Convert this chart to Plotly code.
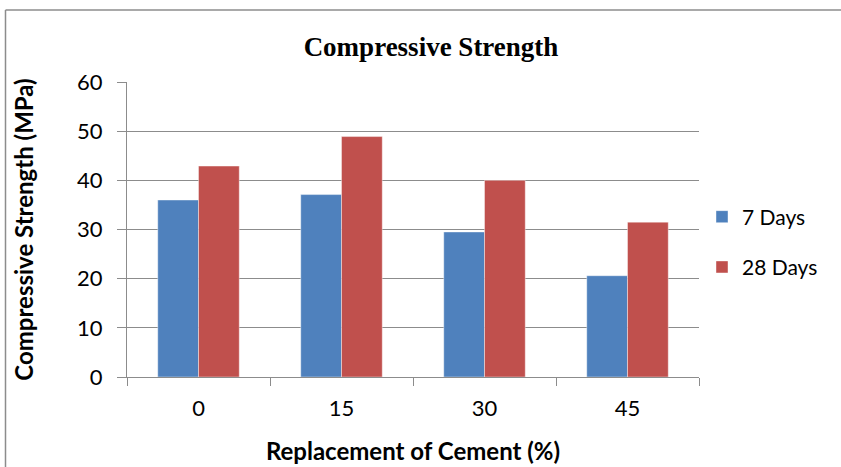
import plotly.graph_objects as go

categories = ["0", "15", "30", "45"]
days7 = [36.0, 37.1, 29.5, 20.6]
days28 = [42.9, 48.9, 40.0, 31.5]
series_names = ["7 Days", "28 Days"]
colors = ["#4F81BD", "#C0504D"]

W, H = 841, 467
L, T = 127, 82
pw, ph = 572, 295
R = W - L - pw
B = H - T - ph

def px_x(x):
    return (x - L) / pw

def px_y(y):
    return (T + ph - y) / ph

fig = go.Figure()
for name, vals, c in zip(series_names, [days7, days28], colors):
    fig.add_trace(go.Bar(
        x=categories, y=vals, name=name, legendgroup=name,
        marker=dict(color=c, line=dict(color="rgba(255,255,255,0.6)", width=0.7)),
    ))

frame = dict(color="#8C8C8C", width=1.5)
fig.update_layout(
    width=W, height=H,
    margin=dict(l=L, r=R, t=T, b=B, autoexpand=False),
    paper_bgcolor="white", plot_bgcolor="white",
    barmode="group", bargap=0.43, bargroupgap=0,
    title=dict(text="<b>Compressive Strength</b>",
               font=dict(family="Liberation Serif", size=27, color="black"),
               x=px_x(431), xref="paper", xanchor="center",
               y=1 - 47 / H, yanchor="middle"),
    font=dict(family="Lato, Liberation Sans, sans-serif", size=22, color="black"),
    showlegend=True,
    legend=dict(x=px_x(702), xanchor="left", y=px_y(242), yanchor="middle",
                font=dict(size=21), tracegroupgap=20, itemwidth=30,
                bgcolor="rgba(0,0,0,0)"),
    shapes=[
        dict(type="line", xref="paper", yref="paper",
             x0=px_x(5.5), x1=px_x(845), y0=px_y(10), y1=px_y(10), line=frame, layer="below"),
        dict(type="line", xref="paper", yref="paper",
             x0=px_x(5.5), x1=px_x(5.5), y0=px_y(10), y1=px_y(475), line=frame, layer="below"),
    ],
)

fig.update_yaxes(
    range=[0, 60], dtick=10, showgrid=True, gridcolor="#8C8C8C", gridwidth=1.3,
    showline=True, linecolor="#8C8C8C", linewidth=1.3,
    ticks="outside", ticklen=9, tickcolor="#8C8C8C", tickwidth=1.3,
    tickfont=dict(size=22), zeroline=False, ticklabelstandoff=10, automargin=False,
    title=dict(text="<b>Compressive Strength (MPa)</b>", font=dict(size=24), standoff=36),
)
fig.update_xaxes(
    showline=True, linecolor="#8C8C8C", linewidth=1.3,
    ticks="outside", ticklen=8, tickcolor="#8C8C8C", tickwidth=1.3,
    tickson="boundaries", tickfont=dict(size=22), ticklabelstandoff=11, automargin=False,
    title=dict(text="<b>Replacement of Cement (%)</b>", font=dict(size=24), standoff=23),
)

fig.write_html("out.html",
               post_script="document.body.style.margin='0px';document.body.style.overflow='hidden';document.documentElement.style.overflow='hidden';",
               config={"displayModeBar": False})
